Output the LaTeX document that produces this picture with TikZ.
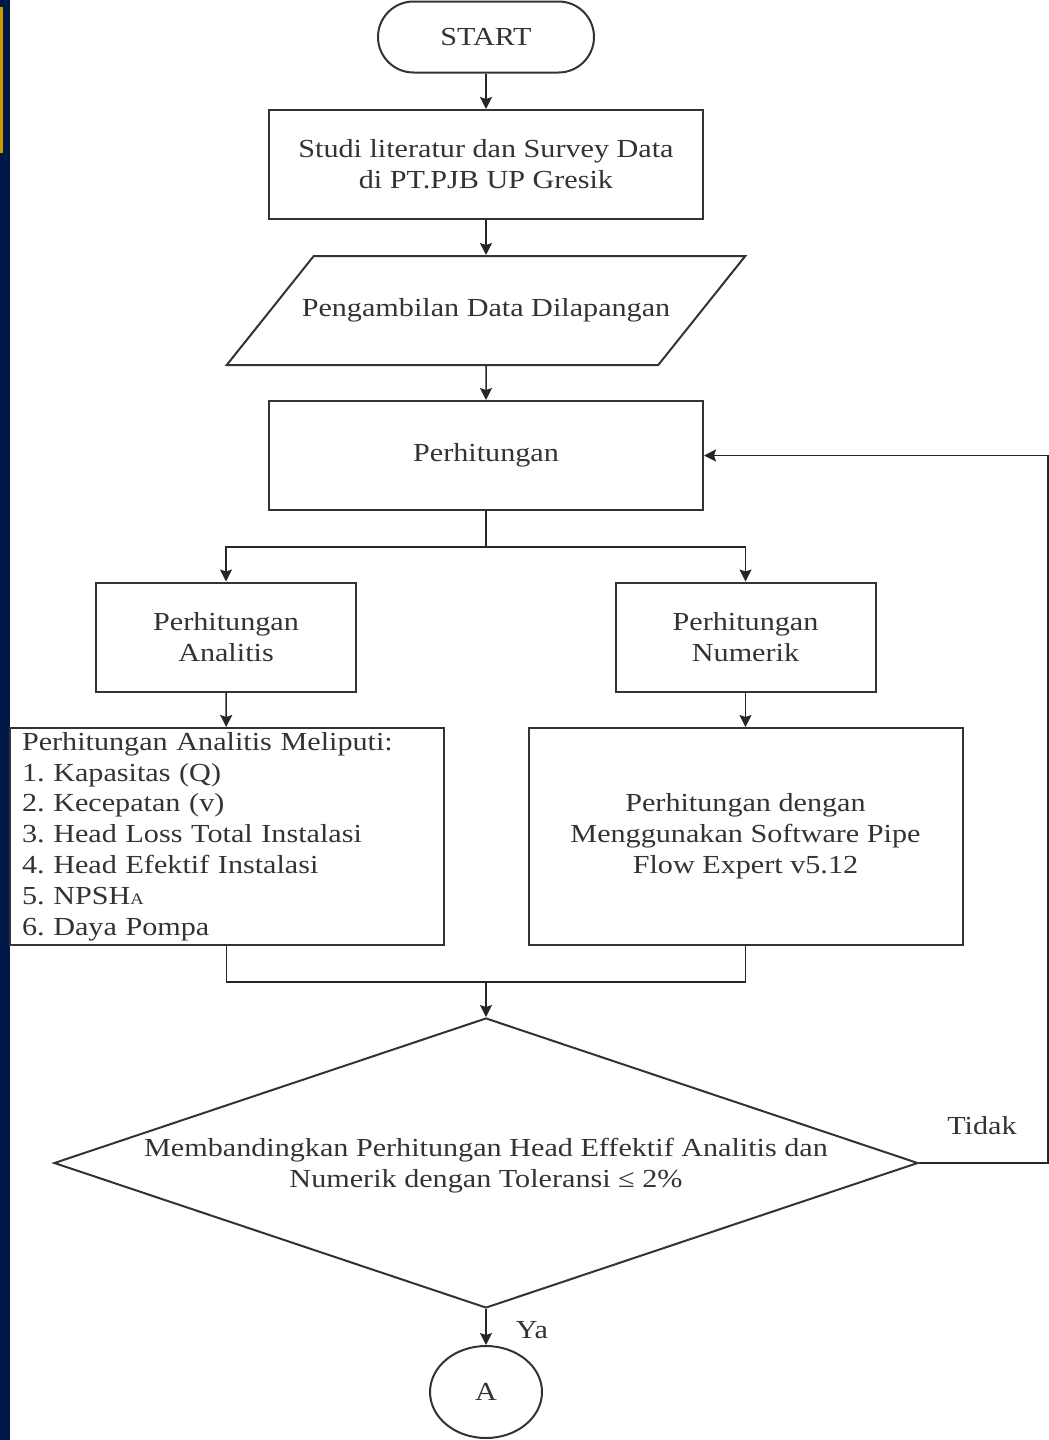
\documentclass[tikz,border=0pt]{standalone}
\usepackage{fontspec}
\setmainfont[FakeStretch=1.16]{Liberation Serif}
\usepackage{xcolor}
\usetikzlibrary{arrows.meta,positioning,shapes.geometric,shapes.misc}
\definecolor{navy}{RGB}{0,24,72}
\definecolor{gold}{RGB}{200,154,0}
\definecolor{ink}{RGB}{51,51,51}
\frenchspacing

\begin{document}
\begin{tikzpicture}[
    x=0.5pt, y=-0.5pt,
    every node/.style={font=\fontsize{13}{15.4}\selectfont, text=ink},
    box/.style={rectangle, draw=ink, line width=1pt, fill=white, minimum width=217pt, minimum height=54.5pt, align=center, inner sep=0pt},
    sbox/.style={box, minimum width=130pt},
    tbox/.style={box, minimum height=108.5pt},
    iobox/.style={trapezium, trapezium left angle=51.4, trapezium right angle=128.6, draw=ink, line width=1pt, text height=9pt, text depth=3pt, inner xsep=-6pt, inner ysep=21.25pt},
    term/.style={rectangle, rounded corners=17.75pt, draw=ink, line width=1pt, minimum width=108pt, minimum height=35.5pt},
    decision/.style={diamond, draw=ink, line width=1pt, minimum width=432pt, minimum height=145pt, inner sep=0pt},
    conn/.style={ellipse, draw=ink, line width=1pt, minimum width=56pt, minimum height=46pt},
    line/.style={draw=black!85, line width=0.75pt},
    arrow/.style={line, -{Stealth[length=6pt, width=6pt, inset=1pt]}}
]
\useasboundingbox (0,0) rectangle (1049,1440);

% slide border
\fill[navy] (0,0) rectangle (10,1440);
\fill[gold] (0,7) rectangle (3,153);

% 1. Preparation
\node[term] (start) at (486,37) {START};
\node[box] (study) at (486,164.5) {Studi literatur dan Survey Data\\di PT.PJB UP Gresik};
\node[iobox] (data) at (486,310.5) {Pengambilan Data Dilapangan};
\node[box] (calc) at (486,455.5) {Perhitungan};

% 2. Two calculation branches
\node[sbox] (ana) at (226,637) {Perhitungan\\Analitis};
\node[sbox] (num) at (745.5,637) {Perhitungan\\Numerik};
\node[tbox, align=left, text width=204.5pt] (list) at (226.5,836.5) {Perhitungan Analitis Meliputi:\\
1. Kapasitas (Q)\\
2. Kecepatan (v)\\
3. Head Loss Total Instalasi\\
4. Head Efektif Instalasi\\
5. NPSH{\fontsize{8}{8}\selectfont A}\\
6. Daya Pompa};
\node[tbox] (soft) at (745.5,836.5) {Perhitungan dengan\\Menggunakan Software Pipe\\Flow Expert v5.12};

% 3. Comparison and end
\coordinate (join) at (486,982);
\node[decision, label={[align=center, yshift=-1.5pt, font=\fontsize{13}{15.5}\selectfont]center:Membandingkan Perhitungan Head Effektif Analitis dan\\Numerik dengan Toleransi ≤ 2\%}] (cmp) at (486,1163) {};
\node[conn] (end) at (486,1392) {A};
\node (no) at (982,1126) {Tidak};
\node (yes) at (532,1330) {Ya};

% Arrows
\draw[arrow] (start) -- (study);
\draw[arrow] (study) -- (data);
\draw[arrow] (data) -- (calc);
\draw[arrow] (calc.south) -- ++(0,36) -| (ana.north);
\draw[arrow] (calc.south) -- ++(0,36) -| (num.north);
\draw[arrow] (ana) -- (list);
\draw[arrow] (num) -- (soft);
\draw[line] (list.south) |- (join) -| (soft.south);
\draw[arrow] (join) -- (cmp.north);
\draw[arrow] (cmp.east) -- ++(129,0) |- (calc.east);
\draw[arrow] (cmp.south) -- (end);

\end{tikzpicture}
\end{document}
